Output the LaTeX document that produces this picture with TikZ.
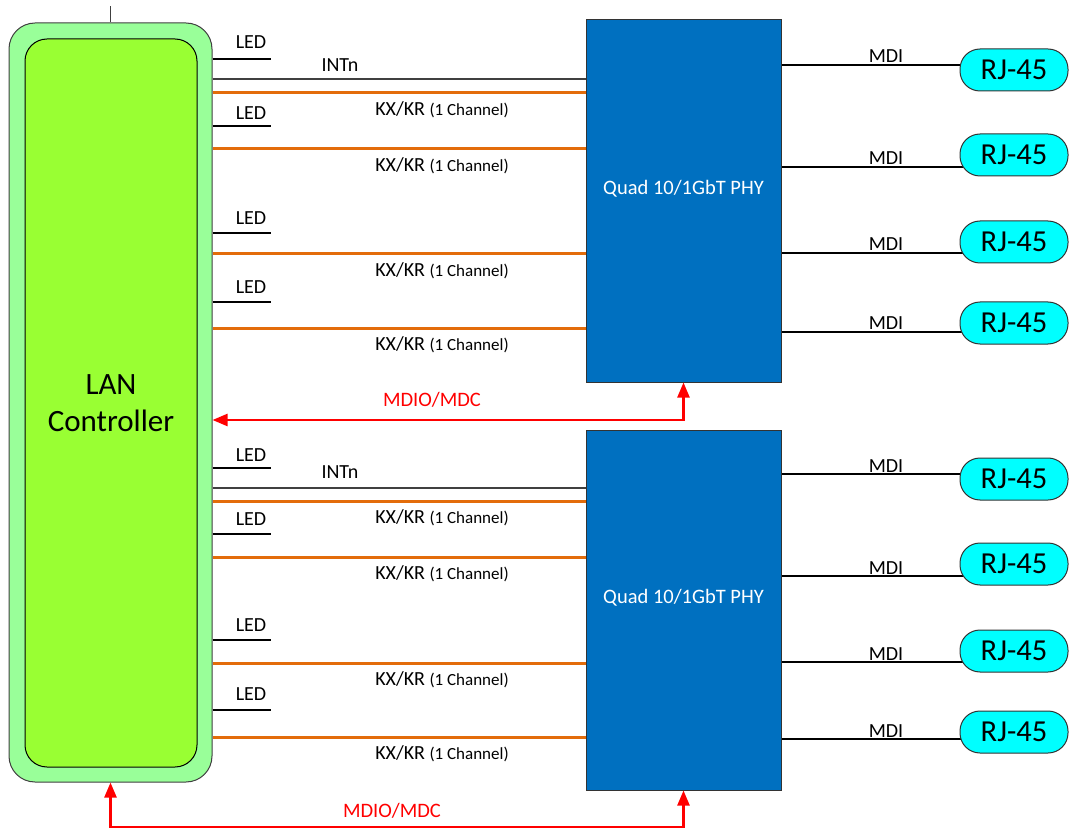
\documentclass[tikz,border=0pt]{standalone}
\usepackage{fontspec}
\setmainfont{Carlito}
\usetikzlibrary{arrows.meta,positioning,backgrounds}
\definecolor{ctrlouter}{HTML}{99FF99}
\definecolor{ctrlinner}{HTML}{99FF33}
\definecolor{phyblue}{HTML}{0070C0}
\definecolor{rjcyan}{HTML}{00FFFF}
\definecolor{kxorange}{HTML}{E36C0A}
\definecolor{mdiored}{HTML}{FF0000}
\definecolor{edgegrey}{HTML}{404040}

\begin{document}
\begin{tikzpicture}[
    x=1pt, y=-1pt,
    every node/.style={font=\fontsize{20}{24}\selectfont, inner sep=0pt},
    ctrlbox/.style={draw=edgegrey, line width=1pt, fill=ctrlouter, rounded corners=26pt, minimum width=203pt, minimum height=759pt},
    ctrlcore/.style={draw=black, line width=1pt, fill=ctrlinner, rounded corners=22pt, minimum width=172pt, minimum height=728pt, align=center, font=\fontsize{31}{37}\selectfont},
    phybox/.style={draw=black!80, line width=1pt, fill=phyblue, minimum width=195pt},
    phytext/.style={text=white, font=\fontsize{20.5}{24}\selectfont, anchor=base},
    rjbox/.style={draw=black!80, line width=1pt, fill=rjcyan, rounded corners=20pt, minimum width=108pt, minimum height=42pt, font=\fontsize{30.5}{36}\selectfont},
    sigtext/.style={anchor=base},
    ledline/.style={black, line width=1.3pt},
    intline/.style={black!75, line width=1.3pt},
    kxline/.style={kxorange, line width=3pt},
    mdiline/.style={black, line width=2.3pt},
    mdioline/.style={mdiored, line width=2.3pt, {Triangle[length=15pt,width=12pt]}-{Triangle[length=15pt,width=12pt]}},
    mdiotext/.style={text=mdiored, font=\fontsize{20.5}{24}\selectfont, anchor=base},
]
\useasboundingbox (0,0) rectangle (1069,829);

% LAN controller
\node[ctrlbox] (lanout) at (110.5,402.5) {};
\node[ctrlcore] (lanin) at (111,403) {LAN\\Controller};
\draw[intline] (lanout.north) -- ++(0,-16);

% PHY blocks
\node[phybox, minimum height=362pt] (phyA) at (683.5,201) {};
\node[phytext] (phyAtext) at (683.5,194.5) {Quad 10/1GbT PHY};
\node[phybox, minimum height=360pt] (phyB) at (683.5,610) {};
\node[phytext] (phyBtext) at (683.5,603.5) {Quad 10/1GbT PHY};

% RJ-45 ports
\foreach \n/\y in {A1/70,A2/155,A3/242,A4/323,B1/479,B2/564,B3/651,B4/732}
    \node[rjbox] (rj\n) at (1014,\y) {RJ-45};

% MDI links
\begin{scope}[on background layer]
\foreach \n/\y/\p in {A1/65/A,A2/167/A,A3/253/A,A4/332/A,B1/474/B,B2/576/B,B3/662/B,B4/739/B} {
    \draw[mdiline] (phy\p.east |- 0,\y) -- (rj\n.center |- 0,\y);
    \node[sigtext] (mdi\n) at (886,\y-2) {MDI};
}
\end{scope}

% LED outputs
\foreach \n/\y/\t in {A1/59/42,A2/126/113,A3/233/218,A4/302/287,B1/468/455,B2/534/519,B3/640/625,B4/710/694} {
    \draw[ledline] (lanout.east |- 0,\y) -- ++(58,0);
    \node[sigtext] (led\n) at (251,\t+6.5) {LED};
}

% Interrupt lines
\draw[intline] (lanout.east |- 0,79) -- (phyA.west |- 0,79);
\node[sigtext] (intA) at (340,71.5) {INTn};
\draw[intline] (lanout.east |- 0,488) -- (phyB.west |- 0,488);
\node[sigtext] (intB) at (340,478.5) {INTn};

% KX/KR lanes
\foreach \n/\y/\p in {A1/93/A,A2/149/A,A3/254/A,A4/328/A,B1/501/B,B2/557/B,B3/663/B,B4/737/B} {
    \draw[kxline] (lanout.east |- 0,\y) -- (phy\p.west |- 0,\y);
    \node[sigtext] (kx\n) at (442,\y+22.5) {KX/KR {\fontsize{17}{20}\selectfont(1 Channel)}};
}

% Management bus
\draw[mdioline] (lanout.east |- 0,420) -| (phyA.south);
\node[mdiotext] (mdioA) at (432,406.5) {MDIO/MDC};
\draw[mdioline] (lanout.south) -- (lanout.south |- 0,827) -| (phyB.south);
\node[mdiotext] (mdioB) at (392,817.5) {MDIO/MDC};

\end{tikzpicture}
\end{document}
